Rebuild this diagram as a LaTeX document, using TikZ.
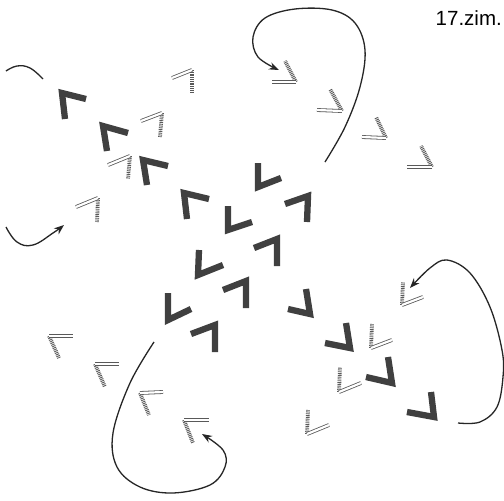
\documentclass[tikz,border=0pt]{standalone}
\usepackage{fontspec}
\setmainfont{Liberation Sans}
\usetikzlibrary{arrows.meta}
\tikzset{
  darkchev/.style={draw=black!75, line width=6.3pt, line join=miter, line cap=butt},
  lightout/.style={draw=black!65, line width=0.8pt, double=white, double distance=2.2pt, line cap=butt},
  lighthatch/.style={draw=black!65, line width=3.8pt, dash pattern=on 0.9pt off 0.9pt, line cap=butt},
  curvearrow/.style={draw=black!85, line width=1.3pt, -{Stealth[length=10pt,width=7.5pt]}},
  curveplain/.style={draw=black!85, line width=1.3pt},
}
\newcommand{\dchev}[3]{\draw[darkchev] #2 -- #1 -- #3;}
\newcommand{\lchev}[3]{\draw[lighthatch] #1 -- #3; \draw[lightout] #1 -- #2;}
\begin{document}
\begin{tikzpicture}[x=1pt,y=-1pt]
\useasboundingbox (0,0) rectangle (504,501);
\fill[white] (0,0) rectangle (504,501);
% dark chevrons
\dchev{(62,93)}{(86,99)}{(65,119)}
\dchev{(103,126)}{(128,133)}{(107,151)}
\dchev{(143,160)}{(168,166)}{(147,185)}
\dchev{(184,193)}{(209,199)}{(187,219)}
\dchev{(258,187)}{(258,163)}{(281,178)}
\dchev{(308,196)}{(285,204)}{(307,222)}
\dchev{(228,230)}{(228,206)}{(252,222)}
\dchev{(277,239)}{(254,248)}{(277,266)}
\dchev{(198,275)}{(199,250)}{(223,265)}
\dchev{(246,281)}{(223,290)}{(246,308)}
\dchev{(168,320)}{(168,293)}{(191,309)}
\dchev{(215,325)}{(191,334)}{(215,352)}
\dchev{(310,314)}{(306,289)}{(288,309)}
\dchev{(350,348)}{(346,323)}{(325,343)}
\dchev{(392,383)}{(388,357)}{(366,377)}
\dchev{(434,417)}{(431,392)}{(407,412)}
% light chevrons
\lchev{(192,70)}{(172,78)}{(192,93)}
\lchev{(162,113)}{(141,121)}{(160,137)}
\lchev{(130,156)}{(108,165)}{(128,179)}
\lchev{(98,198)}{(76,207)}{(97,222)}
\lchev{(371,348)}{(392,340)}{(372,324)}
\lchev{(339,392)}{(361,383)}{(340,367)}
\lchev{(307,434)}{(329,425)}{(308,410)}
\lchev{(402,305)}{(423,297)}{(403,282)}
\lchev{(296,82)}{(272,82)}{(285,61)}
\lchev{(342,111)}{(317,110)}{(330,89)}
\lchev{(386,138)}{(362,137)}{(376,117)}
\lchev{(432,167)}{(407,167)}{(421,146)}
\lchev{(49,336)}{(73,336)}{(59,358)}
\lchev{(95,364)}{(119,364)}{(105,387)}
\lchev{(140,393)}{(163,392)}{(149,415)}
\lchev{(184,420)}{(209,420)}{(193,443)}
% curves
\draw[curveplain] plot[smooth, tension=0.7] coordinates {(43,79) (30,68) (17,66) (6,71)};
\draw[curvearrow] plot[smooth, tension=0.7] coordinates {(6,227) (17,242) (33,245) (53,233) (64,225)};
\draw[curvearrow] plot[smooth, tension=0.6] coordinates {(325,162) (345,127) (360,87) (365,50) (355,23) (332,10) (295,9) (265,18) (253,37) (258,57) (279,70)};
\draw[curvearrow] plot[smooth, tension=0.6] coordinates {(458,423) (480,422) (497,407) (503,377) (502,350) (490,307) (470,273) (447,260) (430,268) (410,288)};
\draw[curvearrow] plot[smooth, tension=0.6] coordinates {(154,342) (130,383) (113,433) (117,467) (140,487) (173,493) (210,485) (225,467) (223,450) (202,434)};
% label
\node[anchor=base east, font=\fontsize{20.5}{24}\selectfont, inner sep=0pt] (lbl) at (502,25) {17.zim.};
\end{tikzpicture}
\end{document}
